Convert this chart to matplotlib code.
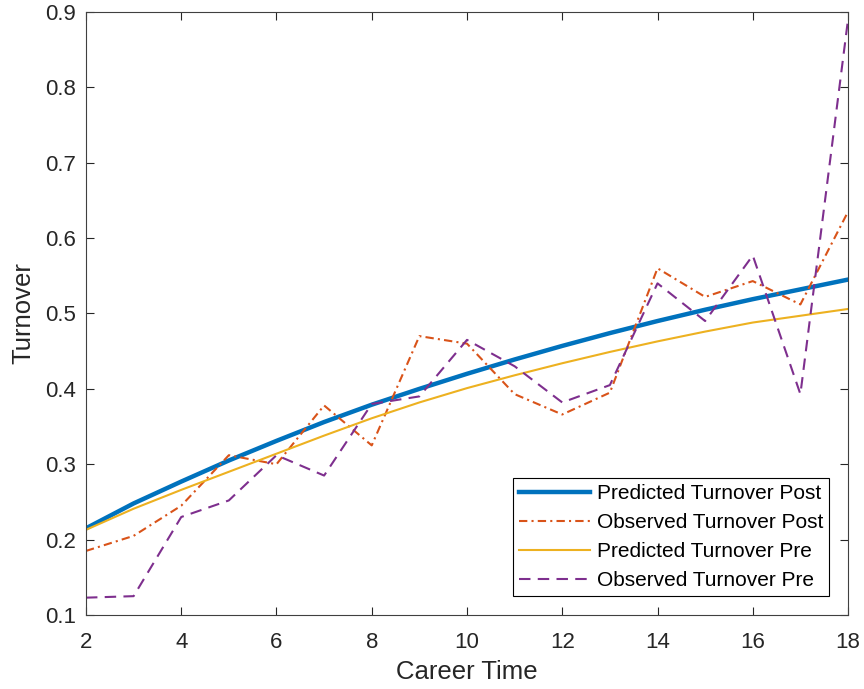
import numpy as np
import matplotlib
matplotlib.use('Agg')
import matplotlib.pyplot as plt

# Career time (x) and turnover series
career_time = list(range(2, 19))
pred_post = [0.215, 0.248, 0.277, 0.305, 0.331, 0.356, 0.379, 0.400, 0.420,
             0.439, 0.457, 0.474, 0.490, 0.505, 0.519, 0.532, 0.545]
obs_post = [0.185, 0.205, 0.245, 0.312, 0.300, 0.378, 0.325, 0.470, 0.460,
            0.393, 0.366, 0.395, 0.560, 0.522, 0.543, 0.512, 0.635]
pred_pre = [0.213, 0.241, 0.266, 0.290, 0.314, 0.338, 0.361, 0.382, 0.401,
            0.418, 0.434, 0.449, 0.463, 0.476, 0.488, 0.497, 0.506]
obs_pre = [0.123, 0.125, 0.230, 0.252, 0.312, 0.285, 0.380, 0.390, 0.465,
           0.430, 0.382, 0.405, 0.540, 0.490, 0.577, 0.393, 0.890]

plt.rcParams['font.family'] = ['Liberation Sans', 'DejaVu Sans']

fig = plt.figure(figsize=(8.64, 6.89), dpi=100)
ax = fig.add_axes([0.0995, 0.1074, 0.882, 0.8752])

# MATLAB default colour order
ax.plot(career_time, pred_post, color='#0072BD', lw=3.2, label='Predicted Turnover Post')
ax.plot(career_time, obs_post, color='#D95319', lw=1.5, linestyle=(0, (4, 2, 1, 2)),
        label='Observed Turnover Post')
ax.plot(career_time, pred_pre, color='#EDB120', lw=1.5, label='Predicted Turnover Pre')
ax.plot(career_time, obs_pre, color='#7E2F8E', lw=1.5, linestyle=(0, (5.5, 3.5)),
        label='Observed Turnover Pre')

ax.set_xlim(2, 18)
ax.set_ylim(0.1, 0.9)
ax.set_xticks(range(2, 19, 2))
ax.set_yticks(np.arange(0.1, 0.91, 0.1))
ax.set_yticklabels(['0.1', '0.2', '0.3', '0.4', '0.5', '0.6', '0.7', '0.8', '0.9'])

ax.tick_params(direction='in', length=6, width=0.8, top=True, right=True,
               labelsize=16, colors='#262626')
ax.tick_params(axis='x', pad=12)
ax.tick_params(axis='y', pad=7)
for s in ax.spines.values():
    s.set_color('#404040')
    s.set_linewidth(0.8)

ax.set_xlabel('Career Time', fontsize=18.5, color='#262626', labelpad=5)
ax.set_ylabel('Turnover', fontsize=18.5, color='#262626', labelpad=7)

leg = ax.legend(loc='lower right', fontsize=15, fancybox=False, framealpha=1,
                edgecolor='black', borderaxespad=0.9, handlelength=3.4,
                labelspacing=0.48, borderpad=0.3, handletextpad=0.33)
leg.get_frame().set_linewidth(0.8)

fig.savefig('out.png', dpi=100)
